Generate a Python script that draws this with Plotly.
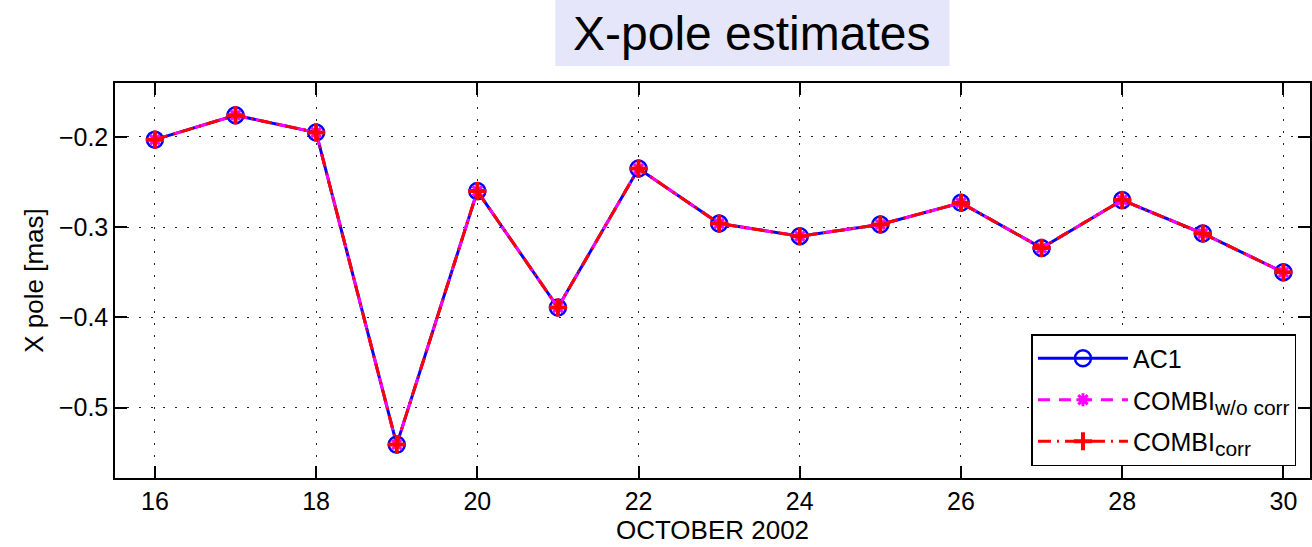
import plotly.graph_objects as go

days = [16, 17, 18, 19, 20, 21, 22, 23, 24, 25, 26, 27, 28, 29, 30]
ac1 = [-0.203, -0.176, -0.195, -0.541, -0.260, -0.389, -0.235, -0.296, -0.310, -0.297,
       -0.273, -0.323, -0.270, -0.307, -0.350]
combi_wo_corr = [-0.203, -0.176, -0.195, -0.541, -0.260, -0.389, -0.235, -0.296, -0.310, -0.297,
                 -0.273, -0.323, -0.270, -0.307, -0.350]
combi_corr = [-0.203, -0.176, -0.195, -0.541, -0.260, -0.389, -0.235, -0.296, -0.310, -0.297,
              -0.273, -0.323, -0.270, -0.307, -0.350]
x_ticks = [16, 18, 20, 22, 24, 26, 28, 30]
y_ticks = [-0.5, -0.4, -0.3, -0.2]
y_tick_text = ["\u22120.5", "\u22120.4", "\u22120.3", "\u22120.2"]

FONT = "Liberation Sans, Arial, Helvetica, sans-serif"
SUB = "<sub><span style='font-size:21px'>{}</span></sub>"

fig = go.Figure()
fig.add_trace(go.Scatter(
    x=days, y=ac1, name="AC1", mode="lines+markers", legendgroup="a",
    line=dict(color="#0000FF", width=3),
    marker=dict(symbol="circle-open", size=16, color="#0000FF", line=dict(width=2.5, color="#0000FF")),
))
fig.add_trace(go.Scatter(
    x=days, y=combi_wo_corr, name="COMBI" + SUB.format("w/o corr"), mode="lines+markers", legendgroup="b",
    line=dict(color="#FF00FF", width=3, dash="12px,9px"),
    marker=dict(symbol="asterisk-open", size=11, color="#FF00FF", line=dict(width=3, color="#FF00FF")),
))
fig.add_trace(go.Scatter(
    x=days, y=combi_corr, name="COMBI" + SUB.format("corr"), mode="lines+markers", legendgroup="c",
    line=dict(color="#FF0000", width=3, dash="13px,6px,2px,6px"),
    marker=dict(symbol="cross-thin-open", size=13, color="#FF0000", line=dict(width=4, color="#FF0000")),
))

grid_dash = "1.5px,10.5px"
fig.update_xaxes(
    range=[15.505, 30.33], tickvals=x_ticks, ticktext=[str(v) for v in x_ticks],
    showline=True, linecolor="black", linewidth=1.5, mirror="ticks",
    ticks="inside", ticklen=12, tickwidth=1.5, tickcolor="black",
    showgrid=True, gridcolor="#222222", gridwidth=1.2, griddash=grid_dash,
    zeroline=False,
    tickfont=dict(size=25, color="black", family=FONT),
    title=dict(text="OCTOBER 2002", font=dict(size=26, color="black", family=FONT), standoff=3),
)
fig.update_yaxes(
    range=[-0.578, -0.1402], tickvals=y_ticks, ticktext=y_tick_text,
    showline=True, linecolor="black", linewidth=1.5, mirror="ticks",
    ticks="inside", ticklen=12, tickwidth=1.5, tickcolor="black",
    showgrid=True, gridcolor="#222222", gridwidth=1.2, griddash=grid_dash,
    zeroline=False,
    tickfont=dict(size=25, color="black", family=FONT),
    title=dict(text="X pole [mas]", font=dict(size=26, color="black", family=FONT), standoff=8),
)

fig.add_shape(type="rect", xref="paper", yref="paper",
              x0=(556 - 115) / 1197, x1=(951 - 115) / 1197,
              y0=(478 - 66) / 395, y1=(478 + 5) / 395,
              fillcolor="#E6E6FA", line=dict(width=0), layer="below")
fig.add_annotation(text="X-pole estimates", xref="paper", yref="paper",
                   x=(753 - 115) / 1197, y=(478 - 33) / 395, xanchor="center", yanchor="middle",
                   showarrow=False, font=dict(size=48, color="black", family=FONT))

fig.update_layout(
    width=1312, height=547,
    margin=dict(l=115, r=0, t=83, b=69),
    paper_bgcolor="white", plot_bgcolor="white",
    showlegend=True,
    legend=dict(
        x=(1033 - 115) / 1197, y=(478 - 334) / 395, xanchor="left", yanchor="top",
        bgcolor="white", bordercolor="black", borderwidth=1.5,
        font=dict(size=25, color="black", family=FONT),
        itemwidth=90, tracegroupgap=6,
    ),
)

fig.write_html("out.html")
